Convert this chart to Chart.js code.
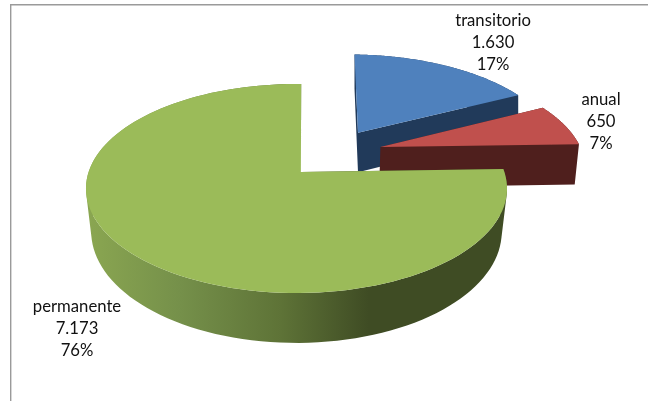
<!DOCTYPE html>
<html>
<head>
<meta charset="utf-8">
<style>
  html, body { margin: 0; padding: 0; background: #fff; overflow: hidden; }
  canvas { display: block; }
</style>
<script src="https://cdn.jsdelivr.net/npm/chart.js@4"></script>
</head>
<body>
<canvas id="chart" width="648" height="401"></canvas>
<script>
// data
const categories = ['transitorio', 'anual', 'permanente'];
const seriesValues = [1630, 650, 7173];

// slice looks
const topColors = ['#4f81bd', '#c0504d', '#9bbb59'];
const wallColors = ['#213a5a', '#4f1f1d', null];
const greenWallStops = [[0, '#8aa651'], [0.22, '#75904a'], [0.46, '#5e7337'], [0.67, '#3f4c24'], [1, '#3f4c24']];

// explode direction on the flat pie, in radius units
const explode = [[0.315, -0.41], [0.42, -0.255], [0, 0]];
// the tip of the big slice sits a bit right of the circle centre
const apexNudge = [0, 0, 0.021];
// how much the underside narrows towards the centre
const shrink = [1, 0.985, 0.975];

// label anchors (centre x, first baseline)
const labelPos = [[493, 26], [601, 105], [77, 312]];

// perspective of the pie
const view = { cx: 296.5, cy: 172, bx: 207.9, by: 101.9, p: 0.158, depth: 42 };

function project(X, Y, lowShrink) {
  const s = 1 / (1 - view.p * Y);
  let x = view.cx + view.bx * X * s;
  let y = view.cy + view.by * Y * s;
  if (lowShrink) {
    x = view.cx + (x - view.cx) * lowShrink;
    y += view.depth * s;
  }
  return [x, y];
}

// outline of a slice, apex first, angles come from the arc element
function sliceOutline(arc, i, lowShrink) {
  const [ex, ey] = explode[i];
  const pts = [project(ex + apexNudge[i], ey, lowShrink)];
  const steps = 120;
  for (let k = 0; k <= steps; k++) {
    const a = arc.startAngle + (arc.endAngle - arc.startAngle) * k / steps;
    pts.push(project(ex + Math.cos(a), ey + Math.sin(a), lowShrink));
  }
  return pts;
}

function addPoly(ctx, pts) {
  // same winding for every piece so they merge in one fill
  let area = 0;
  pts.forEach((p, n) => {
    const q = pts[(n + 1) % pts.length];
    area += p[0] * q[1] - q[0] * p[1];
  });
  const list = area < 0 ? pts.slice().reverse() : pts;
  list.forEach((p, n) => n ? ctx.lineTo(p[0], p[1]) : ctx.moveTo(p[0], p[1]));
  ctx.closePath();
}

const pie3d = {
  id: 'pie3d',
  beforeDraw(chart) {
    const ctx = chart.ctx;
    ctx.save();
    ctx.fillStyle = '#fff';
    ctx.fillRect(0, 0, chart.width, chart.height);
    ctx.strokeStyle = '#9a9a9a';
    ctx.lineWidth = 1.4;
    ctx.beginPath();
    ctx.moveTo(648, 4.7);
    ctx.lineTo(10.7, 4.7);
    ctx.lineTo(10.7, 401);
    ctx.stroke();
    ctx.restore();
  },
  beforeDatasetsDraw(chart) {
    const ctx = chart.ctx;
    const arcs = chart.getDatasetMeta(0).data;
    ctx.save();
    arcs.forEach((arc, i) => {
      const top = sliceOutline(arc, i);
      const low = sliceOutline(arc, i, shrink[i]);
      let wall = wallColors[i];
      if (!wall) {
        wall = ctx.createLinearGradient(88, 0, 507, 0);
        greenWallStops.forEach(s => wall.addColorStop(s[0], s[1]));
      }
      // side walls, one quad per outline step
      ctx.beginPath();
      for (let k = 0; k < top.length; k++) {
        const n = (k + 1) % top.length;
        addPoly(ctx, [top[k], top[n], low[n], low[k]]);
      }
      ctx.fillStyle = wall;
      ctx.fill();
      ctx.beginPath();
      addPoly(ctx, top);
      ctx.fillStyle = topColors[i];
      ctx.fill();
    });
    ctx.restore();
    return false;
  },
  afterDraw(chart) {
    const ctx = chart.ctx;
    const total = seriesValues.reduce((a, b) => a + b, 0);
    ctx.save();
    ctx.font = '16.7px Lato';
    ctx.fillStyle = '#111';
    ctx.textAlign = 'center';
    categories.forEach((name, i) => {
      const value = String(seriesValues[i]).replace(/\B(?=(\d{3})+$)/g, '.');
      const pct = Math.round(seriesValues[i] / total * 100) + '%';
      [name, value, pct].forEach((line, n) => {
        ctx.fillText(line, labelPos[i][0], labelPos[i][1] + n * 22);
      });
    });
    ctx.restore();
  }
};

new Chart(document.getElementById('chart'), {
  type: 'pie',
  data: {
    labels: categories,
    datasets: [{ data: seriesValues, backgroundColor: topColors, borderWidth: 0 }]
  },
  options: {
    responsive: false,
    animation: false,
    devicePixelRatio: 1,
    rotation: 1.5,
    plugins: { legend: { display: false }, tooltip: { enabled: false } }
  },
  plugins: [pie3d]
});
</script>
</body>
</html>
